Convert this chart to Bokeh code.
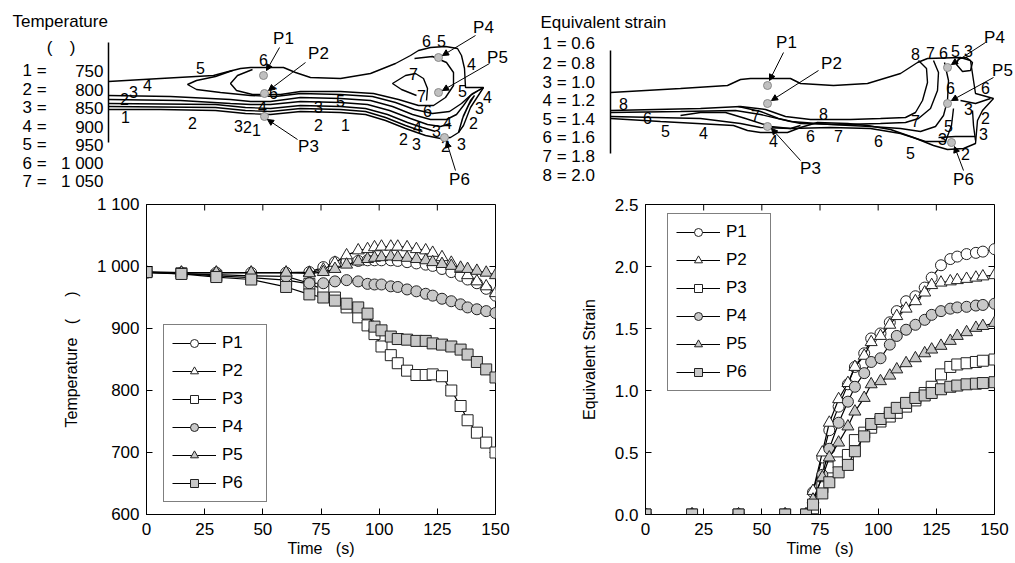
from bokeh.plotting import figure
from bokeh.layouts import column, row
from bokeh.models import ColumnDataSource, Range1d, FixedTicker, Arrow, NormalHead
from bokeh.core.properties import value
from bokeh.embed import file_html
from bokeh.resources import INLINE

FONT = "Liberation Sans"
NB = "\u00a0"

# ---------------- Temperature history (lower left) ----------------
temp_time = [0, 15, 30, 45, 60, 70, 76, 81, 86, 91, 95, 98, 101, 105, 108, 112, 116, 120, 123, 127, 131, 135, 138, 142, 146, 150]
temp_P1 = [991, 990, 990, 990, 990, 991, 999, 1007, 1008, 1009, 1010, 1010, 1010, 1010, 1009, 1007, 1005, 1003, 1001, 996, 991, 985, 979, 973, 964, 953]
temp_P2 = [991, 990, 990, 990, 990, 990, 995, 1006, 1018, 1026, 1028, 1031, 1032, 1032, 1032, 1031, 1028, 1026, 1022, 1015, 1006, 996, 986, 976, 968, 957]
temp_P3 = [991, 989, 985, 982, 978, 972, 963, 950, 934, 918, 905, 891, 871, 857, 844, 832, 825, 825, 826, 823, 800, 775, 752, 732, 716, 700]
temp_P4 = [990, 988, 987, 985, 984, 973, 973, 976, 978, 976, 972, 971, 971, 968, 967, 963, 960, 956, 953, 948, 944, 939, 934, 931, 928, 925]
temp_P5 = [990, 990, 990, 990, 990, 989, 991, 996, 1003, 1008, 1012, 1014, 1015, 1016, 1015, 1014, 1012, 1010, 1007, 1004, 1001, 998, 996, 993, 990, 986]
temp_P6 = [991, 988, 983, 979, 967, 955, 950, 945, 940, 934, 924, 903, 897, 887, 883, 882, 880, 880, 876, 874, 871, 866, 858, 846, 834, 821]
temp_ticks = [600, 700, 800, 900, 1000, 1100]
temp_tick_labels = {1000: "1 000", 1100: "1 100"}

# ---------------- Equivalent strain history (lower right) ----------------
strain_time = [0, 20, 40, 60, 69, 72, 76, 79, 83, 87, 90, 94, 97, 101, 105, 108, 112, 116, 120, 123, 127, 131, 134, 138, 142, 145, 150]
strain_P1 = [0, 0, 0, 0, 0, 0.18, 0.46, 0.68, 0.87, 1.05, 1.19, 1.30, 1.42, 1.46, 1.55, 1.64, 1.72, 1.76, 1.83, 1.91, 2.01, 2.06, 2.08, 2.10, 2.11, 2.12, 2.14]
strain_P2 = [0, 0, 0, 0, 0, 0.19, 0.50, 0.74, 0.93, 1.06, 1.19, 1.28, 1.39, 1.44, 1.53, 1.60, 1.66, 1.72, 1.79, 1.85, 1.87, 1.88, 1.89, 1.90, 1.91, 1.92, 1.93]
strain_P3 = [0, 0, 0, 0, 0, 0.05, 0.22, 0.38, 0.42, 0.48, 0.60, 0.66, 0.70, 0.75, 0.79, 0.82, 0.87, 0.92, 0.98, 1.03, 1.13, 1.19, 1.21, 1.22, 1.23, 1.24, 1.25]
strain_P4 = [0, 0, 0, 0, 0, 0.09, 0.32, 0.53, 0.74, 0.91, 1.03, 1.14, 1.23, 1.26, 1.37, 1.44, 1.49, 1.53, 1.57, 1.61, 1.64, 1.66, 1.67, 1.675, 1.685, 1.69, 1.70]
strain_P5 = [0, 0, 0, 0, 0, 0.12, 0.30, 0.46, 0.58, 0.71, 0.83, 0.94, 1.05, 1.075, 1.12, 1.17, 1.22, 1.26, 1.30, 1.33, 1.36, 1.40, 1.44, 1.47, 1.505, 1.52, 1.545]
strain_P6 = [0, 0, 0, 0, 0, 0.08, 0.17, 0.26, 0.34, 0.40, 0.51, 0.63, 0.73, 0.77, 0.82, 0.86, 0.90, 0.94, 0.96, 0.98, 1.01, 1.03, 1.04, 1.05, 1.055, 1.06, 1.067]
strain_ticks = [0, 0.5, 1.0, 1.5, 2.0, 2.5]
strain_tick_labels = {0: "0.0", 0.5: "0.5", 1: "1.0", 1.5: "1.5", 2: "2.0", 2.5: "2.5"}
time_ticks = [0, 25, 50, 75, 100, 125, 150]

point_names = ["P1", "P2", "P3", "P4", "P5", "P6"]
point_markers = ["circle", "triangle", "square", "circle", "triangle", "square"]
point_fills = ["white", "white", "white", "#c8c8c8", "#c8c8c8", "#c8c8c8"]

# ---------------- Contour sketches (upper part, sketch pixel coords) ----------------
temp_levels = ["1 =", "2 =", "3 =", "4 =", "5 =", "6 =", "7 ="]
temp_level_values = ["750", "800", "850", "900", "950", "1 000", "1 050"]
strain_levels = ["1 = 0.6", "2 = 0.8", "3 = 1.0", "4 = 1.2", "5 = 1.4", "6 = 1.6", "7 = 1.8", "8 = 2.0"]

t_outline_x = [108, 160, 213, 228, 240, 250, 283, 295, 310, 340, 370, 395, 410, 418, 430, 445, 457, 461, 464, 465, 483, 470, 463, 458, 450, 440, 425, 405, 385, 365, 340, 300, 270, 245, 215, 160, 108]
t_outline_y = [81, 78, 75, 71, 68, 67, 67, 72, 77, 78, 73, 63, 55, 50, 47, 46, 48, 55, 68, 87, 87, 107, 125, 132, 137, 138, 135, 128, 120, 114, 112, 111, 114, 113, 110, 109, 109]
t_c1_x = [108, 215, 245, 270, 300, 340, 365, 385, 405, 422]
t_c1_y = [106, 107, 110, 111, 108, 109, 111, 117, 125, 131]
t_c2_x = [108, 215, 245, 270, 300, 340, 365, 387, 407, 422, 435]
t_c2_y = [103, 104, 107, 108, 105, 106, 108, 114, 122, 127, 131]
t_c3_x = [108, 180, 230, 250, 270, 300, 340, 367, 389, 410, 427, 440, 450]
t_c3_y = [99, 100, 103, 104, 104, 101, 102, 104, 110, 118, 124, 126, 123]
t_c4_x = [108, 170, 230, 250, 270, 300, 340, 370, 392, 412, 430, 446, 456, 463, 470, 483]
t_c4_y = [95, 96, 99, 101, 101, 97, 98, 100, 106, 114, 119, 119, 114, 105, 95, 87]
t_c5_x = [232, 215, 196, 187, 196, 220, 250, 275, 300, 340, 372, 395, 414, 432, 449, 461, 472, 483]
t_c5_y = [70, 76, 80, 84, 89, 92, 95, 96, 93, 94, 96, 102, 109, 113, 111, 103, 93, 87]
t_c6_x = [252, 237, 230, 236, 252, 280, 300, 340, 373, 398, 418, 433, 445, 453, 453, 446, 432, 414]
t_c6_y = [69, 75, 83, 90, 94, 94, 91, 91, 93, 99, 105, 105, 97, 85, 72, 62, 56, 58]
t_c7_x = [426, 427, 423, 415, 405, 392, 401, 416]
t_c7_y = [100, 88, 78, 73, 75, 83, 89, 95]
t_c8_x = [458, 462, 468, 474, 470, 463, 458]
t_c8_y = [132, 118, 105, 95, 100, 115, 132]

t_num_x = [200, 147, 133, 124, 125, 192, 238, 247, 256, 263, 273, 262, 318, 340, 318, 345, 426, 441, 471, 413, 421, 427, 462, 487, 479, 473, 447, 417, 436, 403, 416, 445, 461]
t_num_y = [67, 84, 91, 98, 116, 122, 125, 126, 129, 59, 92, 106, 106, 100, 124, 124, 40, 40, 63, 73, 95, 110, 90, 96, 107, 122, 122, 126, 130, 138, 143, 145, 143]
t_num_text = ["5", "4", "3", "2", "1", "2", "3", "2", "1", "6", "6", "4", "3", "5", "2", "1", "6", "5", "4", "7", "7", "6", "5", "4", "3", "2", "4", "4", "3", "2", "3", "2", "3"]

s_outline_x = [610, 680, 727, 740, 750, 790, 800, 833, 867, 900, 917, 927, 960, 970, 973, 975, 993, 982, 977, 975, 963, 947, 933, 913, 890, 867, 847, 817, 800, 787, 760, 747, 733, 660, 610]
s_outline_y = [92, 88, 85, 79, 78, 78, 83, 85, 83, 73, 62, 58, 57, 60, 80, 93, 98, 110, 120, 143, 148, 149, 145, 137, 129, 125, 123, 122, 127, 132, 132, 130, 125, 121, 118]
s_c8_x = [610, 700, 740, 765, 785, 810, 850, 880, 905, 915, 922, 927, 926, 918]
s_c8_y = [110, 108, 106, 109, 116, 119, 119, 118, 117, 112, 100, 82, 68, 60]
s_c7_x = [738, 760, 778, 800, 840, 880, 905, 918, 930, 937, 938, 933]
s_c7_y = [106, 111, 118, 123, 124, 123, 122, 118, 108, 90, 72, 60]
s_c6_x = [610, 680, 735, 760, 790, 830, 870, 900, 920, 935, 943, 947, 948, 944]
s_c6_y = [112, 111, 110, 114, 121, 124, 126, 128, 131, 126, 115, 100, 80, 62]
s_c5_x = [610, 700, 740, 760, 790, 830, 870, 900, 925, 945, 951, 953]
s_c5_y = [116, 118, 123, 127, 128, 127, 128, 133, 141, 141, 125, 108]
s_c4_x = [680, 700, 725, 745, 770, 790, 800]
s_c4_y = [115, 112, 112, 118, 126, 128, 125]
s_c3_x = [958, 956, 962, 970, 972, 966, 958]
s_c3_y = [58, 64, 71, 70, 62, 57, 58]
s_c3b_x = [938, 955, 975]
s_c3b_y = [137, 136, 136]
s_c2_x = [960, 975, 990]
s_c2_y = [100, 103, 98]
s_c2b_x = [972, 973, 975]
s_c2b_y = [110, 125, 140]

s_num_x = [623, 647, 665, 703, 755, 773, 823, 810, 838, 878, 915, 910, 915, 930, 943, 955, 968, 950, 985, 968, 985, 948, 983, 942, 965]
s_num_y = [103, 117, 130, 132, 115, 140, 113, 135, 135, 140, 120, 152, 53, 52, 52, 50, 50, 87, 87, 108, 117, 125, 133, 138, 153]
s_num_text = ["8", "6", "5", "4", "7", "4", "8", "6", "7", "6", "7", "5", "8", "7", "6", "5", "3", "6", "6", "3", "2", "5", "3", "3", "2"]

t_pts_x = [263, 264, 264, 438, 438, 444]
t_pts_y = [75, 93, 116, 57, 92, 137]
t_lab_x = [283, 318, 308, 483, 497, 459]
t_lab_y = [38, 53, 146, 27, 57, 179]
t_arr_x0 = [279, 305, 297, 475, 489, 455]
t_arr_y0 = [47, 62, 139, 35, 63, 170]
t_arr_x1 = [266, 268, 267, 442, 442, 446]
t_arr_y1 = [70, 90, 119, 55, 90, 141]

s_pts_x = [767, 767, 767, 947, 947, 951]
s_pts_y = [85, 103, 126, 67, 103, 142]
s_lab_x = [786, 831, 810, 994, 1002, 963]
s_lab_y = [42, 63, 168, 37, 70, 179]
s_arr_x0 = [783, 818, 800, 985, 993, 963]
s_arr_y0 = [52, 70, 160, 42, 77, 170]
s_arr_x1 = [769, 771, 771, 951, 951, 954]
s_arr_y1 = [80, 100, 128, 64, 100, 146]

# =====================================================================
top = figure(width=1015, height=190, x_range=Range1d(0, 1015), y_range=Range1d(190, 0),
             output_backend="svg", toolbar_location=None, x_axis_type=None, y_axis_type=None,
             min_border=0)
top.outline_line_color = None
top.background_fill_color = "white"
top.border_fill_color = "white"

top.segment(x0=[108, 610], y0=[42, 50], x1=[108, 610], y1=[142, 153], line_color="black", line_width=1.5)

t_lines_x = [t_outline_x, t_c1_x, t_c2_x, t_c3_x, t_c4_x, t_c5_x, t_c6_x, t_c7_x, t_c8_x]
t_lines_y = [t_outline_y, t_c1_y, t_c2_y, t_c3_y, t_c4_y, t_c5_y, t_c6_y, t_c7_y, t_c8_y]
s_lines_x = [s_outline_x, s_c8_x, s_c7_x, s_c6_x, s_c5_x, s_c4_x, s_c3_x, s_c3b_x, s_c2_x, s_c2b_x]
s_lines_y = [s_outline_y, s_c8_y, s_c7_y, s_c6_y, s_c5_y, s_c4_y, s_c3_y, s_c3b_y, s_c2_y, s_c2b_y]
top.multi_line(xs=t_lines_x + s_lines_x, ys=t_lines_y + s_lines_y, line_color="black", line_width=1.4)

num_kw = dict(text_font=value(FONT), text_font_size="16px", text_align="center",
              text_baseline="middle", text_color="black")
top.text(x=t_num_x, y=t_num_y, text=t_num_text, **num_kw)
top.text(x=s_num_x, y=s_num_y, text=s_num_text, **num_kw)

top.scatter(x=t_pts_x + s_pts_x, y=t_pts_y + s_pts_y, marker="circle", size=8,
            fill_color="#c0c0c0", line_color="#8a8a8a", line_width=1)
arr_src = ColumnDataSource(dict(x0=t_arr_x0 + s_arr_x0, y0=t_arr_y0 + s_arr_y0,
                                x1=t_arr_x1 + s_arr_x1, y1=t_arr_y1 + s_arr_y1))
top.add_layout(Arrow(end=NormalHead(size=6, fill_color="black", line_color="black"),
                     x_start="x0", y_start="y0", x_end="x1", y_end="y1",
                     source=arr_src, line_color="black", line_width=1))
top.text(x=t_lab_x + s_lab_x, y=t_lab_y + s_lab_y, text=point_names + point_names,
         text_font=value(FONT), text_font_size="17px", text_align="center",
         text_baseline="middle", text_color="black")

head_kw = dict(text_font=value(FONT), text_font_size="17px", text_baseline="middle", text_color="black")
top.text(x=[12, 540], y=[21, 22], text=["Temperature", "Equivalent strain"], text_align="left", **head_kw)
top.text(x=[49, 72], y=[47, 47], text=["(", ")"], text_align="center", **head_kw)
t_rows_y = [70, 89, 107, 126, 144, 163, 181]
top.text(x=[22] * 7, y=t_rows_y, text=temp_levels, text_align="left", **head_kw)
top.text(x=[103] * 7, y=t_rows_y, text=temp_level_values, text_align="right", **head_kw)
s_rows_y = [43, 63, 82, 100, 119, 137, 156, 175]
top.text(x=[542] * 8, y=s_rows_y, text=strain_levels, text_align="left", **head_kw)


# =====================================================================
def make_chart(times, series, yr, yticks, ylabel, overrides, legend_xy, border_l, border_r):
    p = figure(frame_width=349, frame_height=310, x_range=Range1d(0, 150), y_range=Range1d(*yr),
               output_backend="svg", toolbar_location=None,
               min_border_left=border_l, min_border_right=border_r, min_border_top=14, min_border_bottom=49)
    p.grid.visible = False
    p.outline_line_color = "black"
    p.background_fill_color = "white"
    p.border_fill_color = "white"
    xax = p.below[0]
    yax = p.left[0]
    xax.ticker = FixedTicker(ticks=time_ticks)
    yax.ticker = FixedTicker(ticks=yticks)
    for ax in (xax, yax):
        ax.major_tick_in = 6
        ax.major_tick_out = 0
        ax.minor_tick_line_color = None
        ax.axis_line_color = "black"
        ax.major_tick_line_color = "black"
        ax.major_label_text_font = FONT
        ax.major_label_text_font_size = "17px"
        ax.major_label_text_color = "black"
        ax.axis_label_text_font = FONT
        ax.axis_label_text_font_size = "16px"
        ax.axis_label_text_font_style = "normal"
        ax.axis_label_text_color = "black"
    yax.major_label_overrides = overrides
    yax.major_label_standoff = 7
    yax.axis_label = ylabel
    yax.axis_label_standoff = 14
    xax.major_label_standoff = 8
    xax.axis_label = "Time" + NB * 3 + "(s)"
    xax.axis_label_standoff = 2

    # inward ticks on the top and right frame edges, from the same tick lists
    dy = 6.0 / 310 * (yr[1] - yr[0])
    dx = 6.0 / 349 * 150
    p.segment(x0=time_ticks, x1=time_ticks, y0=[yr[1]] * len(time_ticks),
              y1=[yr[1] - dy] * len(time_ticks), line_color="black", line_width=1)
    p.segment(x0=[150] * len(yticks), x1=[150 - dx] * len(yticks), y0=yticks, y1=yticks,
              line_color="black", line_width=1)

    for name, vals, marker, fill in zip(point_names, series, point_markers, point_fills):
        src = ColumnDataSource(dict(t=times, v=vals))
        p.line("t", "v", source=src, line_color="black", line_width=1.2, legend_label=name)
        p.scatter("t", "v", source=src, marker=marker, size=12 if marker == "triangle" else 11,
                  fill_color=fill, line_color="#222222", line_width=1, legend_label=name)
    lg = p.legend[0]
    lg.location = legend_xy
    lg.margin = 0
    lg.padding = 8
    lg.spacing = 8
    lg.glyph_width = 44
    lg.glyph_height = 20
    lg.label_height = 20
    lg.label_width = 36
    lg.label_standoff = 6
    lg.label_text_font = FONT
    lg.label_text_font_size = "17px"
    lg.label_text_color = "black"
    lg.border_line_color = "black"
    lg.border_line_width = 1
    lg.background_fill_alpha = 1
    return p


p_temp = make_chart(temp_time, [temp_P1, temp_P2, temp_P3, temp_P4, temp_P5, temp_P6],
                    (600, 1100), temp_ticks, "Temperature" + NB * 3 + "(" + NB * 5 + ")",
                    temp_tick_labels, (17, 12), 146, 25)
p_strain = make_chart(strain_time, [strain_P1, strain_P2, strain_P3, strain_P4, strain_P5, strain_P6],
                      (0, 2.5), strain_ticks, "Equivalent Strain", strain_tick_labels, (22, 123), 125, 21)

layout = column(top, row(p_temp, p_strain, spacing=0), spacing=0)
open("out.html", "w").write(file_html(layout, INLINE))
